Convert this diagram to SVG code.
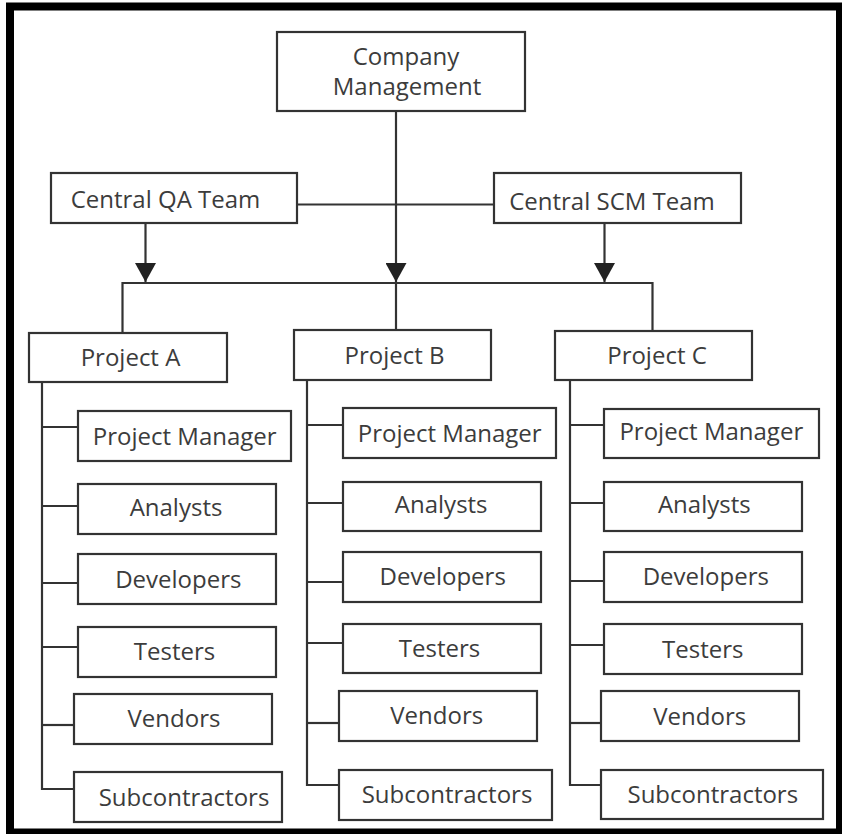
<svg xmlns="http://www.w3.org/2000/svg" width="842" height="834" viewBox="0 0 842 834">
<style>
.box{fill:#fff;stroke:#333;stroke-width:2.2}
.lbl{font-family:"Open Sans","Noto Sans","Liberation Sans",sans-serif;font-size:24px;fill:#3c3c3c;text-anchor:middle}
.ln{stroke:#333;stroke-width:2.2;fill:none}
</style>
<defs>
<marker id="arr" markerUnits="userSpaceOnUse" viewBox="0 0 19 21" markerWidth="19" markerHeight="21" refX="19" refY="10.5" orient="auto">
<path d="M0,0 L19,10.5 L0,21 Z" fill="#222"/>
</marker>
</defs>
<rect x="0" y="0" width="842" height="834" fill="#fff"/>
<rect x="10" y="6.5" width="830" height="826" fill="#fff" stroke="#000" stroke-width="8"/>

<g id="connectors">
<line class="ln" x1="396" y1="111" x2="396" y2="282" marker-end="url(#arr)"/>
<line class="ln" x1="396" y1="283" x2="396" y2="330"/>
<line class="ln" x1="297" y1="204.5" x2="494" y2="204.5"/>
<line class="ln" x1="145.5" y1="223" x2="145.5" y2="282" marker-end="url(#arr)"/>
<line class="ln" x1="604.5" y1="223" x2="604.5" y2="282" marker-end="url(#arr)"/>
<polyline class="ln" points="122.5,333 122.5,283 652.5,283 652.5,331"/>
<polyline class="ln" points="42,382 42,789 74,789"/>
<line class="ln" x1="42" y1="427" x2="78" y2="427"/>
<line class="ln" x1="42" y1="506" x2="78" y2="506"/>
<line class="ln" x1="42" y1="583" x2="78" y2="583"/>
<line class="ln" x1="42" y1="647" x2="78" y2="647"/>
<line class="ln" x1="42" y1="725" x2="74" y2="725"/>
<polyline class="ln" points="307,380 307,785 339,785"/>
<line class="ln" x1="307" y1="425" x2="343" y2="425"/>
<line class="ln" x1="307" y1="503" x2="343" y2="503"/>
<line class="ln" x1="307" y1="582" x2="343" y2="582"/>
<line class="ln" x1="307" y1="643" x2="343" y2="643"/>
<line class="ln" x1="307" y1="723" x2="339" y2="723"/>
<polyline class="ln" points="570,380 570,785 601,785"/>
<line class="ln" x1="570" y1="425" x2="604" y2="425"/>
<line class="ln" x1="570" y1="503" x2="604" y2="503"/>
<line class="ln" x1="570" y1="581" x2="604" y2="581"/>
<line class="ln" x1="570" y1="645" x2="604" y2="645"/>
<line class="ln" x1="570" y1="723" x2="601" y2="723"/>
</g>

<g id="company"><rect class="box" x="277" y="32" width="248" height="79"/><text class="lbl"><tspan x="406" y="64.5">Company</tspan><tspan x="407" y="94.5">Management</tspan></text></g>
<g id="qa"><rect class="box" x="51" y="173" width="246" height="50"/><text class="lbl" x="165.5" y="207.5">Central QA Team</text></g>
<g id="scm"><rect class="box" x="494" y="173" width="247" height="50"/><text class="lbl" x="612" y="209.5">Central SCM Team</text></g>

<g id="projA"><rect class="box" x="29" y="333" width="198" height="49"/><text class="lbl" x="130.5" y="366">Project A</text></g>
<g id="projB"><rect class="box" x="294" y="330" width="197" height="50"/><text class="lbl" x="394.5" y="363.5">Project B</text></g>
<g id="projC"><rect class="box" x="555" y="331" width="197" height="49"/><text class="lbl" x="657" y="364">Project C</text></g>

<g id="a-pm"><rect class="box" x="78" y="411" width="213" height="50"/><text class="lbl" x="184.7" y="445">Project Manager</text></g>
<g id="a-an"><rect class="box" x="78" y="484" width="198" height="50"/><text class="lbl" x="176" y="515.5">Analysts</text></g>
<g id="a-dev"><rect class="box" x="78" y="554" width="198" height="50"/><text class="lbl" x="178.3" y="588">Developers</text></g>
<g id="a-test"><rect class="box" x="78" y="627" width="198" height="50"/><text class="lbl" x="174.5" y="659.5">Testers</text></g>
<g id="a-vend"><rect class="box" x="74" y="694" width="198" height="50"/><text class="lbl" x="174" y="726.5">Vendors</text></g>
<g id="a-sub"><rect class="box" x="74" y="772" width="208" height="50"/><text class="lbl" x="184" y="806">Subcontractors</text></g>

<g id="b-pm"><rect class="box" x="343" y="408" width="213" height="50"/><text class="lbl" x="449.7" y="441.7">Project Manager</text></g>
<g id="b-an"><rect class="box" x="343" y="482" width="198" height="49"/><text class="lbl" x="441.2" y="512.7">Analysts</text></g>
<g id="b-dev"><rect class="box" x="343" y="552" width="198" height="50"/><text class="lbl" x="442.7" y="585">Developers</text></g>
<g id="b-test"><rect class="box" x="343" y="624" width="198" height="49"/><text class="lbl" x="439.5" y="657.3">Testers</text></g>
<g id="b-vend"><rect class="box" x="339" y="691" width="198" height="50"/><text class="lbl" x="436.7" y="724">Vendors</text></g>
<g id="b-sub"><rect class="box" x="339" y="770" width="213" height="50"/><text class="lbl" x="447" y="802.7">Subcontractors</text></g>

<g id="c-pm"><rect class="box" x="604" y="409" width="215" height="49"/><text class="lbl" x="711.3" y="440.3">Project Manager</text></g>
<g id="c-an"><rect class="box" x="604" y="482" width="198" height="49"/><text class="lbl" x="704.3" y="513">Analysts</text></g>
<g id="c-dev"><rect class="box" x="604" y="552" width="198" height="50"/><text class="lbl" x="705.8" y="585.4">Developers</text></g>
<g id="c-test"><rect class="box" x="604" y="624" width="198" height="50"/><text class="lbl" x="702.8" y="657.6">Testers</text></g>
<g id="c-vend"><rect class="box" x="601" y="691" width="198" height="50"/><text class="lbl" x="699.7" y="725">Vendors</text></g>
<g id="c-sub"><rect class="box" x="601" y="770" width="222" height="49"/><text class="lbl" x="712.8" y="803.4">Subcontractors</text></g>
</svg>
